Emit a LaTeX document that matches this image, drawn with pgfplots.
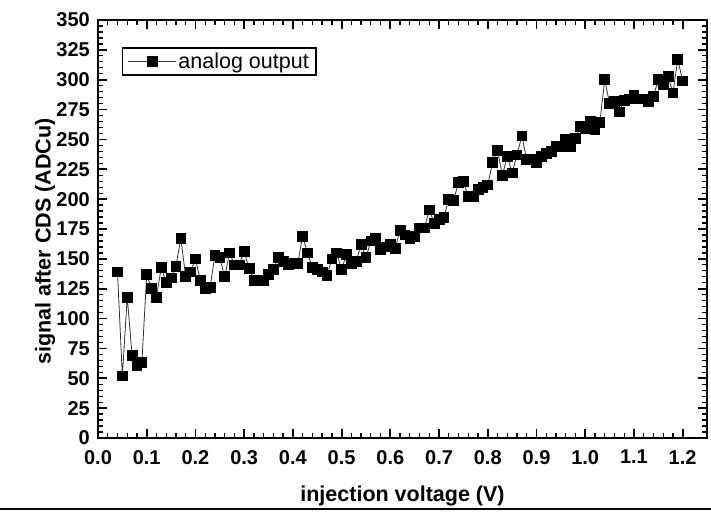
\documentclass[border=0pt]{standalone}
\usepackage{pgfplots}
\pgfplotsset{compat=1.18}
\usepackage{pgfplotstable}
\usepackage{fontspec}
\setmainfont{Liberation Sans}
\pgfplotstableread{
x y
0.04 139
0.05 52
0.06 118
0.07 69
0.08 61
0.09 63
0.10 137
0.11 125
0.12 118
0.13 143
0.14 130
0.15 134
0.16 144
0.17 167
0.18 135
0.19 139
0.20 150
0.21 132
0.22 125
0.23 126
0.24 153
0.25 151
0.26 135
0.27 155
0.28 145
0.29 145
0.30 156
0.31 142
0.32 132
0.33 132
0.34 132
0.35 137
0.36 141
0.37 151
0.38 148
0.39 145
0.40 146
0.41 146
0.42 169
0.43 155
0.44 143
0.45 141
0.46 139
0.47 136
0.48 150
0.49 155
0.50 141
0.51 154
0.52 146
0.53 148
0.54 162
0.55 151
0.56 165
0.57 167
0.58 158
0.59 160
0.60 162
0.61 159
0.62 174
0.63 170
0.64 167
0.65 169
0.66 176
0.67 176
0.68 191
0.69 180
0.70 183
0.71 185
0.72 200
0.73 199
0.74 214
0.75 215
0.76 202
0.77 202
0.78 208
0.79 210
0.80 212
0.81 231
0.82 241
0.83 220
0.84 236
0.85 222
0.86 237
0.87 253
0.88 233
0.89 233
0.90 231
0.91 236
0.92 238
0.93 240
0.94 244
0.95 244
0.96 250
0.97 244
0.98 251
0.99 261
1.00 259
1.01 265
1.02 258
1.03 264
1.04 300
1.05 280
1.06 282
1.07 273
1.08 283
1.09 284
1.10 287
1.11 284
1.12 284
1.13 282
1.14 286
1.15 300
1.16 296
1.17 303
1.18 289
1.19 317
1.20 299
}\datatable
\begin{document}
\begin{tikzpicture}[x=1pt,y=1pt]
\path[use as bounding box] (-98,-74) rectangle (613,438);
\begin{axis}[
  at={(0,0)}, anchor=south west,
  scale only axis, width=609pt, height=418pt,
  xmin=0, xmax=1.25, ymin=0, ymax=350,
  xtick={0,0.1,0.2,0.3,0.4,0.5,0.6,0.7,0.8,0.9,1.0,1.1,1.2},
  ytick={0,25,...,350},
  minor x tick num=4, minor y tick num=4,
  tick align=inside, xtick pos=both, ytick pos=both,
  major tick length=9pt, minor tick length=5pt,
  major tick style={line width=1.8pt, black},
  minor tick style={line width=1.3pt, black},
  axis line style={line width=2.4pt},
  /pgf/number format/assume math mode=true,
  ticklabel style={font=\bfseries\fontsize{20}{24}\selectfont, inner sep=0pt},
  xticklabel style={/pgf/number format/fixed, /pgf/number format/fixed zerofill, /pgf/number format/precision=1, yshift=-12pt},
  yticklabel style={/pgf/number format/fixed, /pgf/number format/precision=0, xshift=-8pt},
  xlabel={injection voltage (V)},
  ylabel={signal after CDS (ADCu)},
  label style={font=\bfseries\fontsize{21.5}{26}\selectfont},
  xlabel style={at={(axis description cs:0.5,-0.139)}, anchor=center},
  ylabel style={at={(axis description cs:-0.087,0.47)}, anchor=center},
  legend style={at={(0.0394,0.935)}, anchor=north west, draw=black, line width=1.4pt,
    font=\fontsize{21.5}{24}\selectfont, inner xsep=5pt, inner ysep=3pt,
    nodes={inner sep=2pt}},
  legend image code/.code={\draw[mark repeat=2,mark phase=2] plot coordinates {(0pt,0pt) (24pt,0pt) (48pt,0pt)};},
  clip=false,
]
\addplot[black!80, line width=0.8pt, mark=square*, mark size=4.9pt,
  mark options={fill=black, draw=black, solid}] table[x=x,y=y] {\datatable};
\addlegendentry{analog output}
\end{axis}
\draw[line width=2.5pt] (-98,-71) -- (613,-71);
\end{tikzpicture}
\end{document}
